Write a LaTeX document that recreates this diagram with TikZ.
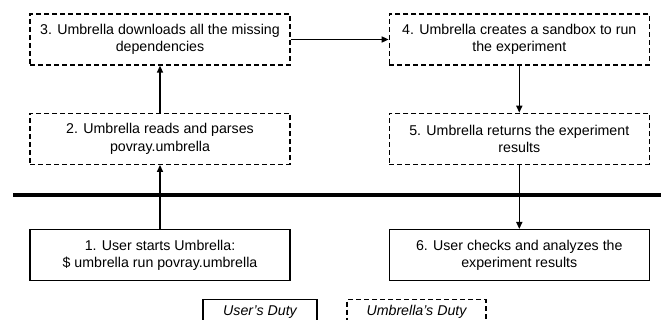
\documentclass[tikz,border=0pt]{standalone}
\usepackage{fontspec}
\setmainfont{Liberation Sans}
\usepackage{tikz}
\usetikzlibrary{positioning,arrows.meta}

\begin{document}
\begin{tikzpicture}[x=1pt,y=1pt,
    duty/.style={draw,line width=1.3pt,minimum width=260pt,minimum height=51pt,
                 inner sep=2pt,align=center,font=\fontsize{14.2}{17.5}\selectfont},
    umb/.style={duty,dash pattern=on 5pt off 3pt},
    usr/.style={duty},
    legend/.style={draw,line width=1.3pt,minimum height=24pt,inner sep=2pt,
                 anchor=north,font=\fontsize{14.2}{17}\selectfont\itshape},
    arrow/.style={-{Triangle[length=7pt,width=6pt]},line width=1.5pt}]
  \useasboundingbox (0,0) rectangle (661,-320);
  \clip (0,0) rectangle (661,-320);
  \node[umb] (dl) at (160,-39.5) {3. Umbrella downloads all the missing\\dependencies};
  \node[umb, below=47pt of dl] (parse) {2. Umbrella reads and parses\\povray.umbrella};
  \node[umb, right=98pt of dl] (sandbox) {4. Umbrella creates a sandbox to run\\the experiment};
  \node[umb, below=47pt of sandbox] (ret) {5. Umbrella returns the experiment\\results};
  \node[usr, below=64pt of parse] (start) {1. User starts Umbrella:\\\$ umbrella run povray.umbrella};
  \node[usr, below=64pt of ret] (check) {6. User checks and analyzes the\\experiment results};

  % separator between user and umbrella
  \coordinate (sepL) at (13,-195);
  \coordinate (sepR) at (661,-195);
  \draw[line width=3.2pt] (sepL) -- (sepR);

  \draw[arrow] (start) -- (parse);
  \draw[arrow] (parse) -- (dl);
  \draw[arrow] (dl) -- (sandbox);
  \draw[arrow] (sandbox) -- (ret);
  \draw[arrow] (ret) -- (check);

  % legend
  \node[legend, minimum width=114pt] (lguser) at (260,-299) {User's Duty};
  \node[legend, minimum width=139pt, dash pattern=on 5pt off 3pt] (lgumb) at (416.5,-299) {Umbrella's Duty};
\end{tikzpicture}
\end{document}
